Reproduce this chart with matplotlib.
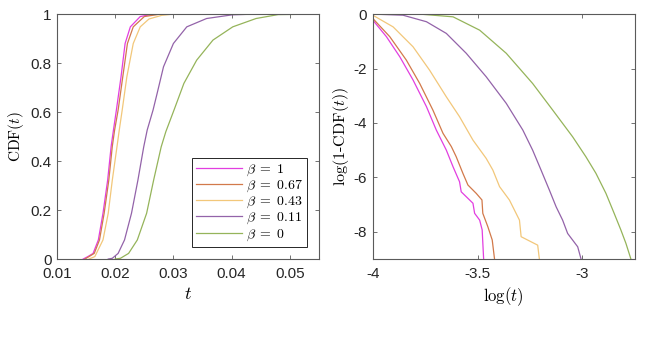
import matplotlib
matplotlib.use('Agg')
import matplotlib.pyplot as plt

plt.rcParams['font.family'] = ['Liberation Sans', 'DejaVu Sans']
plt.rcParams['mathtext.fontset'] = 'cm'

FONT_SIZE = 11
AX_COLOR = '#5a5a5a'

labels = [r'$\beta\;=\;1$', r'$\beta\;=\;0.67$', r'$\beta\;=\;0.43$', r'$\beta\;=\;0.11$', r'$\beta\;=\;0$']
colors = ['#e23ee0', '#d2794a', '#f2c77a', '#9363a9', '#95b45a']

# left panel: CDF(t)
t_b1 = [0.0145, 0.0153, 0.0162, 0.0171, 0.0179, 0.0187, 0.0193, 0.0197, 0.0202, 0.0210, 0.0217, 0.0226, 0.0243, 0.0265, 0.055]
c_b1 = [0, 0.01, 0.023, 0.078, 0.187, 0.322, 0.46, 0.527, 0.608, 0.744, 0.88, 0.948, 0.99, 1.0, 1.0]
t_b067 = [0.0148, 0.0155, 0.0164, 0.0173, 0.0181, 0.0189, 0.0195, 0.0199, 0.0205, 0.0213, 0.0221, 0.0231, 0.0250, 0.0278, 0.055]
c_b067 = [0, 0.01, 0.023, 0.078, 0.187, 0.322, 0.46, 0.527, 0.608, 0.744, 0.88, 0.948, 0.99, 1.0, 1.0]
t_b043 = [0.0155, 0.0165, 0.0179, 0.0188, 0.0195, 0.0203, 0.0207, 0.0212, 0.0220, 0.0231, 0.0243, 0.0258, 0.0280, 0.0300, 0.055]
c_b043 = [0, 0.01, 0.078, 0.187, 0.322, 0.458, 0.527, 0.608, 0.744, 0.88, 0.948, 0.98, 0.995, 1.0, 1.0]
t_b011 = [0.0188, 0.0195, 0.0205, 0.0216, 0.0228, 0.0239, 0.0249, 0.0255, 0.0265, 0.0272, 0.0283, 0.0300, 0.0323, 0.0357, 0.0401, 0.0440, 0.055]
c_b011 = [0, 0.003, 0.023, 0.078, 0.187, 0.322, 0.458, 0.527, 0.608, 0.676, 0.785, 0.88, 0.948, 0.982, 0.997, 1.0, 1.0]
t_b0 = [0.0200, 0.0209, 0.0223, 0.0238, 0.0254, 0.0266, 0.0279, 0.0287, 0.0301, 0.0318, 0.0340, 0.0368, 0.0402, 0.0442, 0.0480, 0.055]
c_b0 = [0, 0.003, 0.023, 0.078, 0.187, 0.322, 0.458, 0.52, 0.608, 0.717, 0.812, 0.894, 0.948, 0.982, 0.998, 1.0]

# right panel: log(1-CDF) vs log(t)
lx_b1 = [-4, -3.935, -3.871, -3.808, -3.744, -3.697, -3.649, -3.617, -3.586, -3.578, -3.554, -3.522, -3.514, -3.490, -3.478, -3.471]
ly_b1 = [-0.22, -0.83, -1.57, -2.42, -3.40, -4.26, -5.0, -5.61, -6.16, -6.53, -6.71, -6.95, -7.32, -7.57, -7.93, -9.0]
lx_b067 = [-4, -3.919, -3.840, -3.776, -3.713, -3.665, -3.625, -3.602, -3.570, -3.546, -3.506, -3.479, -3.475, -3.451, -3.430, -3.419]
ly_b067 = [-0.16, -0.83, -1.69, -2.55, -3.53, -4.38, -4.87, -5.24, -5.85, -6.28, -6.59, -6.83, -7.32, -7.81, -8.30, -9.0]
lx_b043 = [-4, -3.903, -3.808, -3.729, -3.649, -3.586, -3.522, -3.459, -3.427, -3.395, -3.348, -3.300, -3.292, -3.213, -3.205]
ly_b043 = [-0.04, -0.47, -1.20, -2.06, -3.04, -3.77, -4.63, -5.30, -5.73, -6.34, -6.83, -7.57, -8.18, -8.49, -9.0]
lx_b011 = [-4, -3.856, -3.744, -3.649, -3.554, -3.459, -3.363, -3.284, -3.237, -3.197, -3.157, -3.125, -3.094, -3.070, -3.022, -3.006]
ly_b011 = [0, -0.04, -0.28, -0.71, -1.44, -2.30, -3.28, -4.26, -5.0, -5.73, -6.47, -7.08, -7.57, -8.06, -8.55, -9.0]
lx_b0 = [-4, -3.776, -3.617, -3.490, -3.363, -3.237, -3.141, -3.046, -2.983, -2.935, -2.887, -2.848, -2.816, -2.792, -2.768]
ly_b0 = [0, 0, -0.10, -0.59, -1.44, -2.55, -3.53, -4.51, -5.24, -5.85, -6.59, -7.32, -7.93, -8.42, -9.0]

cdf_t = [t_b1, t_b067, t_b043, t_b011, t_b0]
cdf_c = [c_b1, c_b067, c_b043, c_b011, c_b0]
tail_x = [lx_b1, lx_b067, lx_b043, lx_b011, lx_b0]
tail_y = [ly_b1, ly_b067, ly_b043, ly_b011, ly_b0]


def style_axes(ax):
    for sp in ax.spines.values():
        sp.set_color(AX_COLOR)
        sp.set_linewidth(0.8)
    ax.tick_params(direction='in', top=True, right=True, labelsize=FONT_SIZE,
                   length=3, width=0.6, color=AX_COLOR, labelcolor='#262626')
    ax.tick_params(axis='x', pad=6)
    ax.tick_params(axis='y', pad=4)


fig = plt.figure(figsize=(6.45, 3.44), dpi=100)

ax1 = fig.add_axes([0.0884, 0.247, 0.406, 0.712])
for i in range(5):
    ax1.plot(cdf_t[i], cdf_c[i], color=colors[i], lw=0.9, label=labels[i])
ax1.set_xlim(0.01, 0.055)
ax1.set_ylim(0, 1)
ax1.set_xticks([0.01, 0.02, 0.03, 0.04, 0.05])
ax1.set_xticklabels(['0.01', '0.02', '0.03', '0.04', '0.05'])
ax1.set_yticks([0, 0.2, 0.4, 0.6, 0.8, 1])
ax1.set_yticklabels(['0', '0.2', '0.4', '0.6', '0.8', '1'])
ax1.set_xlabel(r'$t$', fontsize=13, labelpad=3)
ax1.set_ylabel(r'$\mathrm{CDF}(t)$', fontsize=11, labelpad=3)
style_axes(ax1)
leg = ax1.legend(loc='lower right', bbox_to_anchor=(0.955, 0.05), fontsize=10,
                 handlelength=3.3, handletextpad=0.3, labelspacing=0.0,
                 borderpad=0.3, borderaxespad=0, fancybox=False, framealpha=1)
leg.get_frame().set_edgecolor('#262626')
leg.get_frame().set_linewidth(0.7)

ax2 = fig.add_axes([0.578, 0.247, 0.406, 0.712])
for i in range(5):
    ax2.plot(tail_x[i], tail_y[i], color=colors[i], lw=0.9)
ax2.set_xlim(-4, -2.75)
ax2.set_ylim(-9, 0)
ax2.set_xticks([-4, -3.5, -3])
ax2.set_xticklabels(['-4', '-3.5', '-3'])
ax2.set_yticks([-8, -6, -4, -2, 0])
ax2.set_yticklabels(['-8', '-6', '-4', '-2', '0'])
ax2.set_xlabel(r'$\log(t)$', fontsize=12, labelpad=3)
ax2.set_ylabel(r'$\log(1\text{-}\mathrm{CDF}(t))$', fontsize=11.5, labelpad=2)
style_axes(ax2)

plt.savefig('out.png', dpi=100)
